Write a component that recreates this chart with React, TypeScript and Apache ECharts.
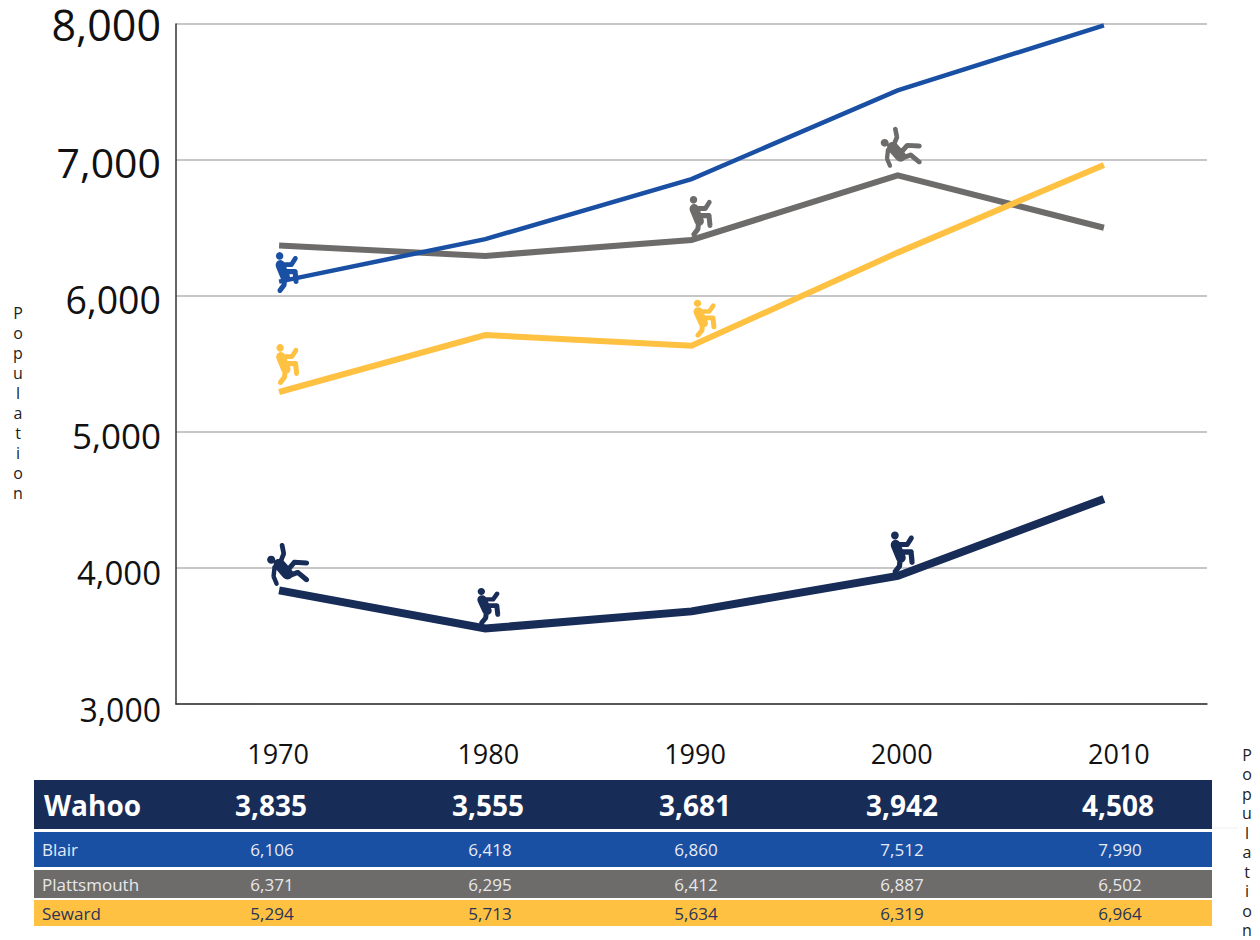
import React, { useEffect, useRef } from "react";
import * as echarts from "echarts";

const years = ["1970", "1980", "1990", "2000", "2010"];
const wahoo = [3835, 3555, 3681, 3942, 4508];
const blair = [6106, 6418, 6860, 7512, 7990];
const plattsmouth = [6371, 6295, 6412, 6887, 6502];
const seward = [5294, 5713, 5634, 6319, 6964];
const rowNames = ["Wahoo", "Blair", "Plattsmouth", "Seward"];
const axisTitle = "Population";

const NAVY = "#182c58";
const BLUE = "#1a50a4";
const GREY = "#6d6c6b";
const YELLOW = "#ffc142";
const FONT = "'Open Sans', 'Noto Sans', sans-serif";

type P = [number, number];

function disc(c: P, r: number): string {
  let d = "";
  for (let i = 0; i < 16; i++) {
    const a = (i / 16) * Math.PI * 2;
    d += `${i === 0 ? "M" : "L"}${c[0] + r * Math.cos(a)} ${c[1] + r * Math.sin(a)}`;
  }
  return d + "Z";
}

function stroke(points: P[], w: number): string {
  let d = "";
  const r = w / 2;
  points.forEach((p, i) => {
    d += disc(p, r);
    if (i === 0) return;
    const q = points[i - 1];
    const len = Math.hypot(p[0] - q[0], p[1] - q[1]) || 1;
    const nx = (-(p[1] - q[1]) / len) * r;
    const ny = ((p[0] - q[0]) / len) * r;
    d += `M${q[0] + nx} ${q[1] + ny}L${q[0] - nx} ${q[1] - ny}L${p[0] - nx} ${p[1] - ny}L${p[0] + nx} ${p[1] + ny}Z`;
  });
  return d;
}

// Pictograms, drawn in a 3x-zoom coordinate space.
const climber =
  "path://" +
  disc([13, 11], 11) +
  stroke([[15, 37], [30, 72]], 28) +
  stroke([[26, 36], [48, 36], [60, 18]], 14) +
  stroke([[32, 56], [59, 56], [62, 84]], 15) +
  stroke([[28, 76], [26, 95], [14, 110]], 15);

const faller =
  "path://" +
  disc([12, 50], 12) +
  stroke([[44, 7], [49, 32], [38, 60]], 14) +
  stroke([[36, 64], [60, 92]], 34) +
  stroke([[22, 72], [19, 100], [28, 122]], 13) +
  stroke([[58, 84], [80, 58], [116, 60]], 15) +
  stroke([[60, 100], [90, 88], [116, 110]], 15);

type Icon = { index: number; path: string; size: [number, number]; offset: [number, number] };

const wahooIcons: Icon[] = [
  { index: 0, path: faller, size: [42, 43], offset: [9, -26] },
  { index: 1, path: climber, size: [23, 37], offset: [3.5, -22] },
  { index: 3, path: climber, size: [24, 43], offset: [5, -23] },
];
const blairIcons: Icon[] = [{ index: 0, path: climber, size: [23, 41], offset: [8, -9] }];
const plattsmouthIcons: Icon[] = [
  { index: 2, path: climber, size: [23, 41], offset: [9.5, -23.5] },
  { index: 3, path: faller, size: [41, 41], offset: [3.5, -28] },
];
const sewardIcons: Icon[] = [
  { index: 0, path: climber, size: [23, 41], offset: [8.5, -27.5] },
  { index: 2, path: climber, size: [23, 38], offset: [13.5, -27] },
];

function withIcons(values: number[], icons: Icon[]) {
  return values.map((value, i) => {
    const ic = icons.find((k) => k.index === i);
    return ic
      ? { value, symbol: ic.path, symbolSize: ic.size, symbolOffset: ic.offset }
      : { value, symbol: "none" };
  });
}

function lineSeries(name: string, values: number[], icons: Icon[], color: string, width: number) {
  return {
    name,
    type: "line",
    data: withIcons(values, icons),
    showAllSymbol: true,
    smooth: false,
    lineStyle: { color, width, cap: "butt", join: "miter" },
    itemStyle: { color },
    emphasis: { disabled: true },
    silent: true,
  };
}

const tableLeft = 34;
const tableWidth = 1178;
const rows = [
  { name: rowNames[0], values: wahoo, y: 780, h: 49, fill: NAVY, text: "#ffffff", size: 28, weight: 700, nameX: 44, xs: [271, 488, 695, 902, 1118] },
  { name: rowNames[1], values: blair, y: 832, h: 35, fill: BLUE, text: "#e6ebf5", size: 17, weight: 400, nameX: 42, xs: [272, 490, 696, 902, 1120] },
  { name: rowNames[2], values: plattsmouth, y: 870, h: 28, fill: GREY, text: "#e8e8e8", size: 17, weight: 400, nameX: 42, xs: [272, 490, 696, 902, 1120] },
  { name: rowNames[3], values: seward, y: 900, h: 26, fill: YELLOW, text: "#2a3557", size: 17, weight: 400, nameX: 42, xs: [272, 490, 696, 902, 1120] },
];

const fmt = (v: number) => v.toLocaleString("en-US");

function tableGraphics() {
  const out: any[] = [];
  rows.forEach((r) => {
    out.push({ type: "rect", shape: { x: tableLeft, y: r.y, width: tableWidth, height: r.h }, style: { fill: r.fill } });
    out.push({
      type: "text",
      style: { text: r.name, x: r.nameX, y: r.y + r.h / 2, fill: r.text, fontFamily: FONT, fontSize: r.size, fontWeight: r.weight, textAlign: "left", textVerticalAlign: "middle" },
    });
    r.values.forEach((v, i) => {
      out.push({
        type: "text",
        style: { text: fmt(v), x: r.xs[i], y: r.y + r.h / 2, fill: r.text, fontFamily: FONT, fontSize: r.size, fontWeight: r.weight, textAlign: "center", textVerticalAlign: "middle" },
      });
    });
  });
  out.push({ type: "line", shape: { x1: 1212, y1: 828, x2: 1238, y2: 828 }, style: { stroke: "#eeeeee", lineWidth: 1 } });
  return out;
}

function stackedTitle(x: number, y: number, lineHeight: number) {
  return {
    type: "text",
    style: {
      text: axisTitle.split("").join("\n"),
      x,
      y,
      fill: "#222222",
      fontFamily: FONT,
      fontSize: 16,
      lineHeight,
      textAlign: "center",
      textVerticalAlign: "top",
    },
  };
}

const tickSizes: Record<string, number> = { "8000": 43, "7000": 41, "6000": 37.5, "5000": 35, "4000": 33, "3000": 32 };
const tickDrop: Record<string, number> = { "8000": 0, "7000": 2, "6000": 3, "5000": 3, "4000": 4, "3000": 5 };
const yearShift: Record<string, number> = { "1970": -1, "1980": 3, "1990": 3.5, "2000": 4, "2010": 15 };

export default function App() {
  const ref = useRef<HTMLDivElement>(null);
  useEffect(() => {
    document.body.style.margin = "0";
    document.body.style.overflow = "hidden";
    const chart = echarts.init(ref.current!, undefined, { renderer: "svg" });
    const rich: any = {};
    Object.keys(tickSizes).forEach((k) => {
      rich["t" + k] = { fontSize: tickSizes[k], lineHeight: 40, fontFamily: FONT, color: "#111111", padding: [tickDrop[k] * 2, 0, 0, 0] };
    });
    const yearRich: any = {};
    years.forEach((y) => {
      const s = yearShift[y];
      yearRich["y" + y] = { fontSize: 27, fontFamily: FONT, color: "#111111", padding: [0, s < 0 ? -s * 2 : 0, 0, s > 0 ? s * 2 : 0] };
    });
    chart.setOption({
      animation: false,
      backgroundColor: "#ffffff",
      grid: { left: 176, right: 53, top: 24, bottom: 236, containLabel: false },
      xAxis: {
        type: "category",
        data: years,
        boundaryGap: true,
        axisTick: { show: false },
        axisLine: { show: true, lineStyle: { color: "#333333", width: 1.5 } },
        axisLabel: { margin: 36, formatter: (v: string) => `{y${v}|${v}}`, rich: yearRich },
      },
      yAxis: {
        type: "value",
        min: 3000,
        max: 8000,
        interval: 1000,
        axisTick: { show: false },
        axisLine: { show: true, lineStyle: { color: "#333333", width: 1.5 } },
        splitLine: { show: true, lineStyle: { color: "#b5b5b5", width: 1.5 } },
        axisLabel: {
          margin: 15,
          formatter: (v: number) => `{t${v}|${fmt(v)}}`,
          rich,
        },
      },
      series: [
        lineSeries("Plattsmouth", plattsmouth, plattsmouthIcons, GREY, 6),
        lineSeries("Seward", seward, sewardIcons, YELLOW, 6),
        lineSeries("Blair", blair, blairIcons, BLUE, 4.5),
        lineSeries("Wahoo", wahoo, wahooIcons, NAVY, 8),
      ],
      graphic: { elements: [...tableGraphics(), stackedTitle(18, 303, 20), stackedTitle(1247, 745, 19.5)] },
    });
    return () => chart.dispose();
  }, []);
  return <div ref={ref} style={{ position: "fixed", left: 0, top: 0, width: 1260, height: 940 }} />;
}
